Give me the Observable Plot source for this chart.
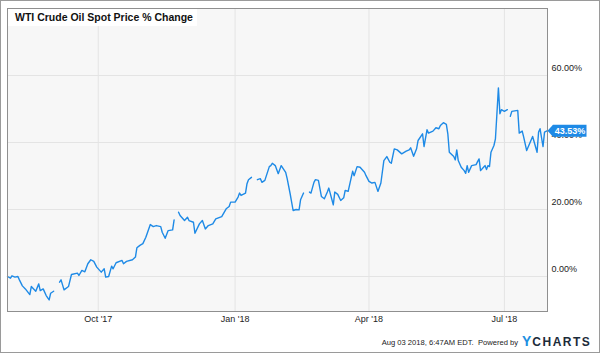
<!DOCTYPE html>
<html><head><meta charset="utf-8">
<script src="https://cdn.jsdelivr.net/npm/d3@7"></script>
<script src="https://cdn.jsdelivr.net/npm/@observablehq/plot@0.6"></script>
<style>
html,body{margin:0;padding:0;background:#fff;}
#wrap{position:relative;width:600px;height:353px;overflow:hidden;font-family:"Liberation Sans",Arial,Helvetica,sans-serif;}
#chart{position:absolute;left:0;top:0;}
#border{position:absolute;left:0;top:0;width:600px;height:353px;box-sizing:border-box;border:1px solid #9a9a9a;pointer-events:none;}
#title{position:absolute;left:8px;top:9px;width:189px;height:17px;background:#fff;font-weight:bold;font-size:10.5px;line-height:17px;padding-left:7px;box-sizing:border-box;color:#111;white-space:nowrap;}
#footer{position:absolute;right:82px;top:338px;font-size:7.6px;line-height:10px;color:#222;white-space:nowrap;}
#logo{position:absolute;left:522px;top:334px;font-weight:bold;line-height:14px;white-space:nowrap;color:#1c2b3a;}
#logo .y{color:#1d8fe1;font-size:14px;letter-spacing:1px;}
#logo .rest{font-size:12px;letter-spacing:1.5px;}
</style></head>
<body>
<div id="wrap">
  <div id="chart"></div>
  <div id="title"></div>
  <div id="footer"></div>
  <div id="logo"><span class="y">Y</span><span class="rest">CHARTS</span></div>
  <div id="border"></div>
</div>
<script>
const titleText = "WTI Crude Oil Spot Price % Change";
const footerText = "Aug 03 2018, 6:47AM EDT.\u00a0 Powered by";

const dates = [
"2017-08-01","2017-08-03","2017-08-04","2017-08-06","2017-08-08","2017-08-09","2017-08-11","2017-08-13","2017-08-16","2017-08-17",
"2017-08-20","2017-08-22","2017-08-23","2017-08-25","2017-08-27","2017-08-29","2017-08-30","2017-09-01","2017-09-04","2017-09-05",
"2017-09-06","2017-09-08","2017-09-11","2017-09-13","2017-09-17","2017-09-18","2017-09-20","2017-09-22","2017-09-24","2017-09-26",
"2017-09-28","2017-09-30","2017-10-03","2017-10-05","2017-10-06","2017-10-08","2017-10-10","2017-10-11","2017-10-13","2017-10-17",
"2017-10-18","2017-10-20","2017-10-24","2017-10-26","2017-10-27","2017-10-29","2017-10-31","2017-11-02","2017-11-05","2017-11-07",
"2017-11-09","2017-11-12","2017-11-13","2017-11-15","2017-11-17","2017-11-20","2017-11-21","2017-11-23","2017-11-24","2017-11-25",
"2017-11-28","2017-11-30","2017-12-01","2017-12-04","2017-12-05","2017-12-08","2017-12-10","2017-12-12","2017-12-14","2017-12-17",
"2017-12-19","2017-12-23","2017-12-26","2017-12-28","2017-12-29","2018-01-01","2018-01-03","2018-01-04","2018-01-05","2018-01-08",
"2018-01-09","2018-01-10","2018-01-12","2018-01-14","2018-01-16","2018-01-18","2018-01-19","2018-01-21","2018-01-24","2018-01-25",
"2018-01-26","2018-01-28","2018-01-30","2018-02-01","2018-02-04","2018-02-05","2018-02-07","2018-02-09","2018-02-11","2018-02-13",
"2018-02-14","2018-02-16","2018-02-18","2018-02-20","2018-02-21","2018-02-23","2018-02-24","2018-02-26","2018-02-28","2018-03-02",
"2018-03-04","2018-03-05","2018-03-08","2018-03-09","2018-03-11","2018-03-13","2018-03-15","2018-03-16","2018-03-18","2018-03-21",
"2018-03-22","2018-03-24","2018-03-26","2018-03-29","2018-03-30","2018-04-01","2018-04-03","2018-04-05","2018-04-07","2018-04-09",
"2018-04-11","2018-04-13","2018-04-15","2018-04-16","2018-04-18","2018-04-20","2018-04-23","2018-04-26","2018-04-28","2018-04-29",
"2018-05-01","2018-05-03","2018-05-04","2018-05-07","2018-05-08","2018-05-10","2018-05-11","2018-05-14","2018-05-16","2018-05-18",
"2018-05-19","2018-05-21","2018-05-23","2018-05-24","2018-05-25","2018-05-28","2018-05-29","2018-05-30","2018-05-31","2018-06-02",
"2018-06-04","2018-06-05","2018-06-06","2018-06-07","2018-06-09","2018-06-12","2018-06-13","2018-06-14","2018-06-15","2018-06-17",
"2018-06-18","2018-06-19","2018-06-20","2018-06-21","2018-06-22","2018-06-24","2018-06-25","2018-06-26","2018-06-27","2018-06-28",
"2018-06-29","2018-07-01","2018-07-03","2018-07-04","2018-07-05","2018-07-06","2018-07-10","2018-07-11","2018-07-13","2018-07-14",
"2018-07-16","2018-07-20","2018-07-23","2018-07-24","2018-07-25","2018-07-27","2018-07-28","2018-07-30"
];
const values = [
0.0,-0.5,0.2,-0.2,0.0,-1.0,-2.8,-3.7,-5.4,-3.0,
-4.4,-2.2,-4.2,-3.7,-5.7,-7.0,-5.0,-4.4,null,-1.7,
-1.0,-4.0,-3.0,0.6,1.0,0.3,1.8,1.4,3.8,5.0,
4.5,2.8,1.3,2.3,-0.2,0.0,3.1,2.3,4.1,4.8,
3.8,4.5,5.0,5.8,8.6,9.3,9.8,11.7,15.5,14.9,
15.2,14.9,13.2,11.4,13.7,13.9,16.9,null,19.2,18.2,
16.7,17.7,16.7,16.2,12.9,15.7,16.7,14.2,15.2,15.7,
17.2,17.9,20.2,20.9,22.2,22.2,23.7,24.9,24.2,24.9,
27.7,28.9,29.6,null,28.9,29.2,28.1,28.7,32.8,33.1,
33.8,33.1,30.7,33.1,31.1,29.2,24.7,19.7,20.0,19.9,
22.9,24.9,null,25.2,24.9,28.1,28.9,28.7,23.9,23.2,
25.2,26.4,21.4,25.2,24.5,22.7,23.5,25.7,25.4,31.4,
30.1,32.8,32.6,31.1,30.1,28.4,27.9,28.1,25.4,27.9,
34.6,35.8,34.1,33.8,38.1,37.8,36.6,37.4,37.8,38.4,
35.9,38.1,40.6,42.6,38.8,43.8,42.8,43.4,44.4,44.1,
45.1,45.9,45.4,42.6,37.1,35.8,34.8,37.8,34.6,32.6,
31.6,30.8,33.1,31.1,33.1,33.4,34.3,35.1,31.6,32.6,
33.1,31.9,33.1,32.8,37.1,39.1,41.1,48.6,56.3,48.6,
49.8,49.3,49.8,null,47.8,49.3,49.6,42.8,43.4,41.6,
37.6,41.8,37.1,43.1,44.1,38.8,43.1,43.53
];

const yTicks = [0, 20, 40, 60];
const xTickDates = ["2017-10-01", "2018-01-01", "2018-04-01", "2018-07-01"];
const xTickLabels = ["Oct '17", "Jan '18", "Apr '18", "Jul '18"];
const xDomain = ["2017-08-01", "2018-07-30"];
const yDomain = [-10.45, 80];

document.getElementById("title").textContent = titleText;
document.getElementById("footer").textContent = footerText;

const data = dates.map((d, i) => ({date: new Date(d), value: values[i] == null ? NaN : values[i]}));
const last = data[data.length - 1];
const xTicks = xTickDates.map(d => new Date(d));
const labelOf = new Map(xTicks.map((d, i) => [+d, xTickLabels[i]]));

const flag = {draw(ctx) {
  ctx.moveTo(0, 0); ctx.lineTo(5.5, -6); ctx.lineTo(39, -6);
  ctx.lineTo(39, 6); ctx.lineTo(5.5, 6); ctx.closePath();
}};

const blue = "#1e8ae6";
const chart = Plot.plot({
  width: 600, height: 353,
  marginLeft: 7, marginRight: 53, marginTop: 8, marginBottom: 42,
  style: {fontFamily: "'Liberation Sans', Arial, Helvetica, sans-serif", fontSize: "9px", color: "#222", background: "transparent", overflow: "visible"},
  x: {type: "utc", domain: xDomain.map(d => new Date(d))},
  y: {domain: yDomain},
  marks: [
    Plot.frame({fill: "#f7f7f7"}),
    Plot.gridY(yTicks, {stroke: "#e4e4e4", strokeOpacity: 1}),
    Plot.gridX(xTicks, {stroke: "#e4e4e4", strokeOpacity: 1}),
    Plot.axisY(yTicks, {anchor: "right", tickSize: 0, tickPadding: 4, dy: -7, tickFormat: d => d.toFixed(2) + "%", label: null}),
    Plot.axisX(xTicks, {anchor: "bottom", tickSize: 0, tickPadding: 4, tickFormat: d => labelOf.get(+d), label: null}),
    Plot.line(data, {x: "date", y: "value", stroke: blue, strokeWidth: 1.4}),
    Plot.frame({stroke: "#8f8f8f"}),
    Plot.dot([last], {x: "date", y: "value", symbol: flag, fill: blue, stroke: null}),
    Plot.text([last], {x: "date", y: "value", text: d => d.value.toFixed(2) + "%", dx: 22.5, fill: "#fff", fontWeight: "bold", fontSize: 9})
  ]
});
document.getElementById("chart").appendChild(chart);
</script>
</body></html>
